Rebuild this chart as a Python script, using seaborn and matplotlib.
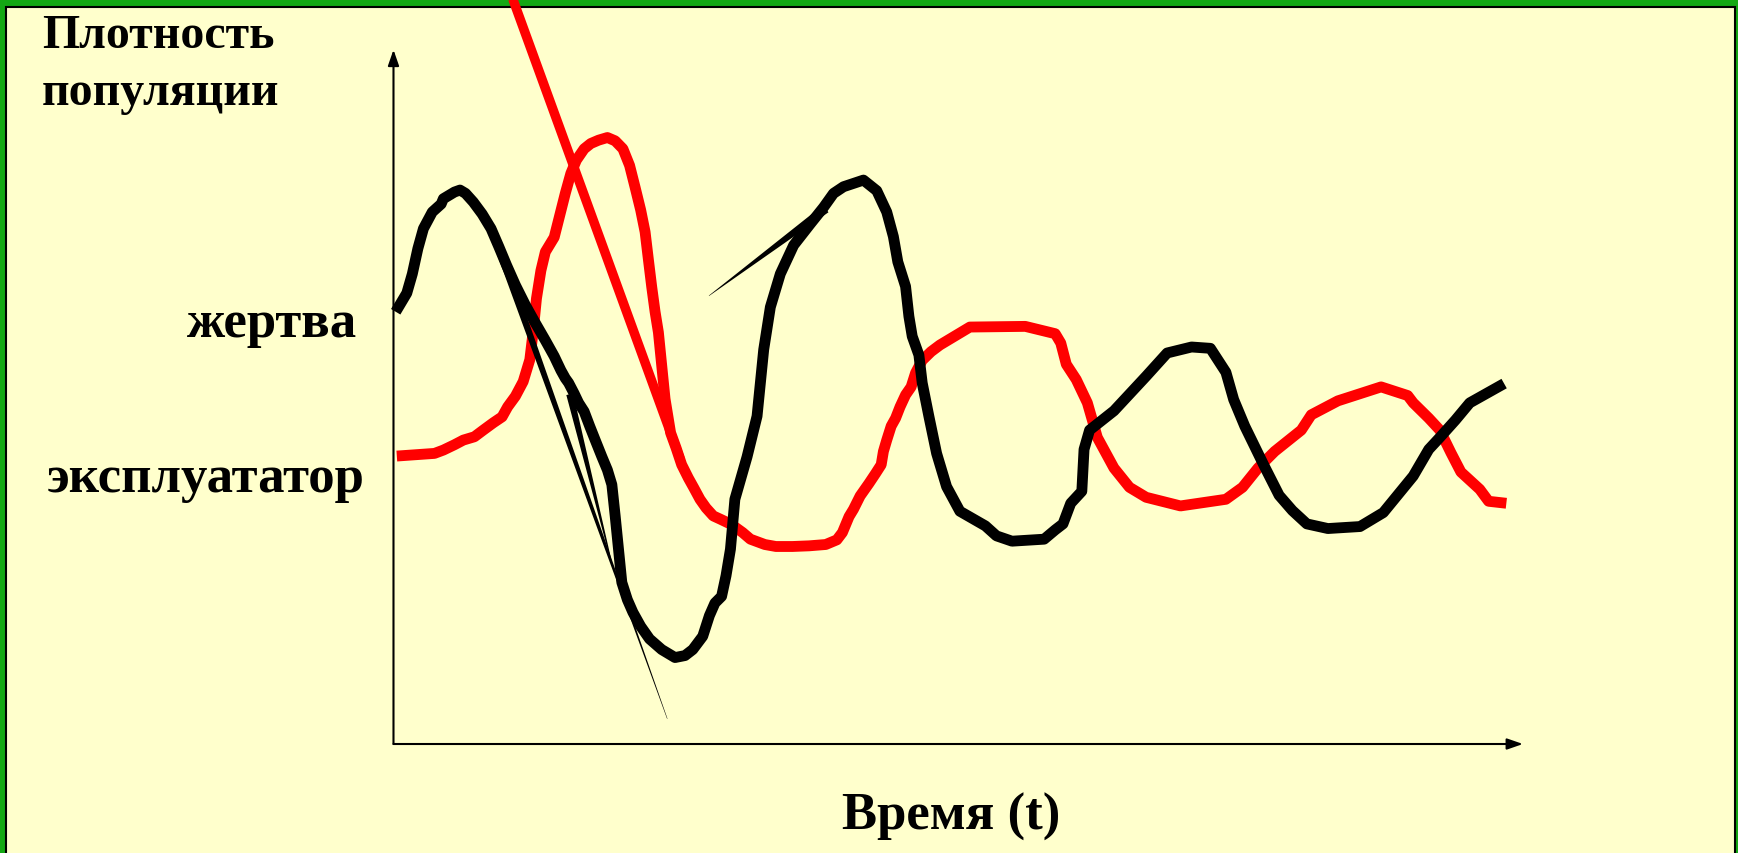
import numpy as np
import matplotlib
matplotlib.use("Agg")
import matplotlib.pyplot as plt
import seaborn as sns
from matplotlib.patches import Rectangle

# ---------------- data (time t, population density d) ----------------
prey_t = [0.2, 1.2, 1.7, 2.2, 2.7, 3.5, 4.3, 4.5, 5.5, 6.0, 6.5, 7.2, 8.0, 8.8, 9.5,
          10.2, 11.0, 11.9, 12.8, 13.7, 14.5, 15.1, 15.5, 15.8, 16.3, 16.7, 17.2, 17.7,
          18.2, 18.8, 19.3, 19.7, 20.0, 20.3, 20.6, 21.1, 21.6, 22.3, 23.1, 24.2, 25.4,
          26.3, 27.0, 27.9, 28.5, 29.0, 29.6, 30.0, 30.4, 30.8, 31.9, 32.8, 33.4, 34.0,
          34.9, 36.1, 37.6, 38.8, 39.7, 40.6, 42.4, 43.6, 44.5, 45.1, 45.5, 46.2, 46.5,
          46.8, 47.4, 47.7, 48.3, 49.0, 49.9, 51.1, 53.4, 54.4, 55.8, 58.7, 59.7, 60.4,
          61.1, 62.1, 62.3, 62.8, 65.0, 67.9, 69.8, 72.0, 73.7, 75.1, 75.8, 76.8, 78.5,
          79.9, 81.1, 82.4, 84.3, 87.2, 89.3, 92.0, 93.4, 94.4, 95.8, 97.1, 100.2]
prey_d = [65.0, 67.8, 70.7, 74.5, 77.5, 80.0, 81.2, 82.0, 83.0, 83.3, 82.8, 81.5, 79.7,
          77.5, 74.8, 72.0, 69.0, 66.0, 63.3, 60.7, 58.3, 56.2, 55.0, 54.3, 52.7, 51.3,
          50.0, 47.8, 45.7, 43.2, 41.2, 39.0, 34.3, 29.3, 24.3, 21.7, 19.8, 17.7, 15.8,
          14.2, 13.0, 13.3, 14.2, 16.2, 19.3, 21.2, 22.2, 25.3, 29.3, 36.8, 43.2, 49.3,
          59.3, 65.7, 70.7, 75.0, 78.2, 80.7, 82.8, 83.8, 84.8, 83.2, 80.0, 76.3, 72.5,
          68.8, 64.3, 61.3, 58.5, 54.3, 49.3, 43.7, 38.7, 35.0, 32.8, 31.3, 30.5, 30.8,
          32.2, 33.1, 36.2, 38.0, 44.3, 47.2, 50.1, 55.3, 58.8, 59.7, 59.5, 55.9, 51.8,
          47.8, 42.0, 37.4, 35.1, 33.1, 32.4, 32.7, 34.8, 40.3, 44.3, 46.1, 48.7, 51.3,
          54.2]

exploiter_t = [0.3, 2.0, 3.7, 4.5, 5.5, 6.3, 7.3, 8.1, 9.0, 9.8, 10.3, 11.0, 11.7, 12.3,
               12.6, 12.9, 13.3, 13.7, 14.5, 15.0, 15.5, 16.0, 16.5, 17.2, 17.8, 18.5,
               19.3, 20.0, 20.7, 21.3, 21.8, 22.3, 22.7, 23.0, 23.3, 23.6, 23.9, 24.2,
               24.5, 25.0, 25.5, 26.0, 26.6, 27.1, 27.65, 28.2, 28.85, 29.5, 30.5, 31.5,
               32.2, 33.5, 34.5, 36.0, 37.5, 39.0, 40.0, 40.5, 41.1, 41.5, 42.1, 42.9,
               43.5, 44.0, 44.2, 44.5, 44.9, 45.3, 45.7, 46.2, 46.7, 47.1, 47.7, 48.5,
               49.3, 50.3, 51.3, 52.0, 57.0, 59.7, 60.2, 60.7, 61.6, 62.6, 63.5, 65.0,
               66.4, 67.9, 71.0, 75.1, 76.6, 78.0, 79.5, 81.9, 82.8, 85.2, 89.1, 91.5,
               92.0, 93.4, 94.4, 95.4, 96.3, 98.0, 98.8, 100.4]
exploiter_d = [43.3, 43.5, 43.7, 44.2, 45.0, 45.7, 46.2, 47.2, 48.3, 49.2, 50.7, 52.3,
               54.5, 57.8, 62.0, 67.0, 71.2, 74.0, 76.2, 79.5, 82.8, 85.8, 87.8, 89.5,
               90.3, 90.8, 91.2, 90.7, 89.5, 87.0, 83.7, 80.3, 77.0, 72.8, 68.7, 65.0,
               61.9, 56.9, 51.9, 46.8, 44.5, 42.0, 40.0, 38.5, 36.8, 35.5, 34.3, 33.8,
               33.0, 31.8, 30.8, 30.0, 29.7, 29.7, 29.8, 30.0, 30.7, 31.8, 34.2, 35.3,
               37.3, 39.2, 40.7, 42.0, 44.0, 45.7, 47.8, 49.0, 50.7, 52.5, 53.7, 55.8,
               57.7, 59.0, 60.0, 61.0, 62.0, 62.7, 62.8, 61.7, 60.3, 57.1, 54.8, 51.3,
               46.1, 41.5, 38.6, 37.1, 35.8, 36.8, 38.6, 41.5, 44.0, 47.2, 49.5, 51.6,
               53.7, 52.4, 51.3, 49.0, 47.2, 43.8, 40.9, 38.3, 36.5, 36.2]

# straight construction lines drawn over the curves (start, end)
red_line_t = [10.4, 25.85]
red_line_d = [113.7, 42.9]
tangent_a_t = [8.9, 24.7]
tangent_a_d = [77.4, 3.8]
tangent_b_t = [15.9, 19.7]
tangent_b_d = [52.6, 27.1]
wedge_t = [39.0, 28.46]
wedge_d = [80.5, 67.4]

# axis arrow tips
y_axis_top = 104.4
x_axis_end = 101.9

y_label_lines = ["Плотность", "популяции"]
prey_label = "жертва"
exploiter_label = "эксплуататор"
x_label = "Время (t)"

# ---------------- figure ----------------
W, H, DPI = 1738, 854, 100
BG = "#FFFFCC"
GREEN = "#14A814"

sns.set_style("white")
plt.rcParams["font.family"] = ["Liberation Serif", "DejaVu Serif"]

fig = plt.figure(figsize=(W / DPI, H / DPI), dpi=DPI, facecolor=GREEN)
fig.patches.append(Rectangle((6 / W, -0.1), (1735 - 6) / W, 1.1 - 8 / H,
                             transform=fig.transFigure, figure=fig,
                             facecolor=BG, edgecolor="black", linewidth=1.5, zorder=-5))

ax = fig.add_axes([0, 0, 1, 1])
ax.set_zorder(1)
ax.patch.set_alpha(0)
ax.set_xlim(-35.50, 121.30)
ax.set_ylim(-16.39, 112.03)
ax.axis("off")

# axes with arrows
arrow = dict(arrowstyle="-|>,head_length=0.95,head_width=0.33", color="black",
             lw=1.5, shrinkA=0, shrinkB=0, mutation_scale=10)
ax.annotate("", xy=(0, y_axis_top), xytext=(0, 0), arrowprops=arrow)
ax.annotate("", xy=(x_axis_end, 0), xytext=(0, 0), arrowprops=arrow)

# curves
LW = 7.8
sns.lineplot(x=exploiter_t, y=exploiter_d, sort=False, estimator=None, color="#FF0000",
             lw=LW, ax=ax, solid_capstyle="butt", solid_joinstyle="round")
sns.lineplot(x=red_line_t, y=red_line_d, sort=False, estimator=None, color="#FF0000",
             lw=6.8, ax=ax, solid_capstyle="butt")
sns.lineplot(x=prey_t, y=prey_d, sort=False, estimator=None, color="black",
             lw=LW, ax=ax, solid_capstyle="butt", solid_joinstyle="round")


def tapered(t, d, w0, w1):
    """Filled tapered stroke from (t[0], d[0]) width w0 px to (t[1], d[1]) width w1 px."""
    p = ax.transData.transform(np.column_stack([t, d]))
    v = p[1] - p[0]
    n = np.array([-v[1], v[0]]) / np.hypot(*v)
    verts = np.array([p[0] + n * w0 / 2, p[1] + n * w1 / 2,
                      p[1] - n * w1 / 2, p[0] - n * w0 / 2])
    dv = ax.transData.inverted().transform(verts)
    ax.fill(dv[:, 0], dv[:, 1], color="black", lw=0, zorder=3)


tapered(tangent_a_t, tangent_a_d, 8, 0.4)
tapered(tangent_b_t, tangent_b_d, 7, 0.8)
tapered(wedge_t, wedge_d, 9, 0.4)

# texts
kw = dict(fontweight="bold", color="black", va="baseline")
fig.text(42 / W, 1 - 48 / H, y_label_lines[0], ha="left", fontsize=34.5, **kw)
fig.text(42 / W, 1 - 105 / H, y_label_lines[1], ha="left", fontsize=34.5, **kw)
fig.text(357 / W, 1 - 337 / H, prey_label, ha="right", fontsize=38, **kw)
fig.text(47 / W, 1 - 492 / H, exploiter_label, ha="left", fontsize=38, **kw)
fig.text(951 / W, 1 - 830 / H, x_label, ha="center", fontsize=38, **kw)

fig.savefig("out.png", dpi=DPI, facecolor=GREEN)
